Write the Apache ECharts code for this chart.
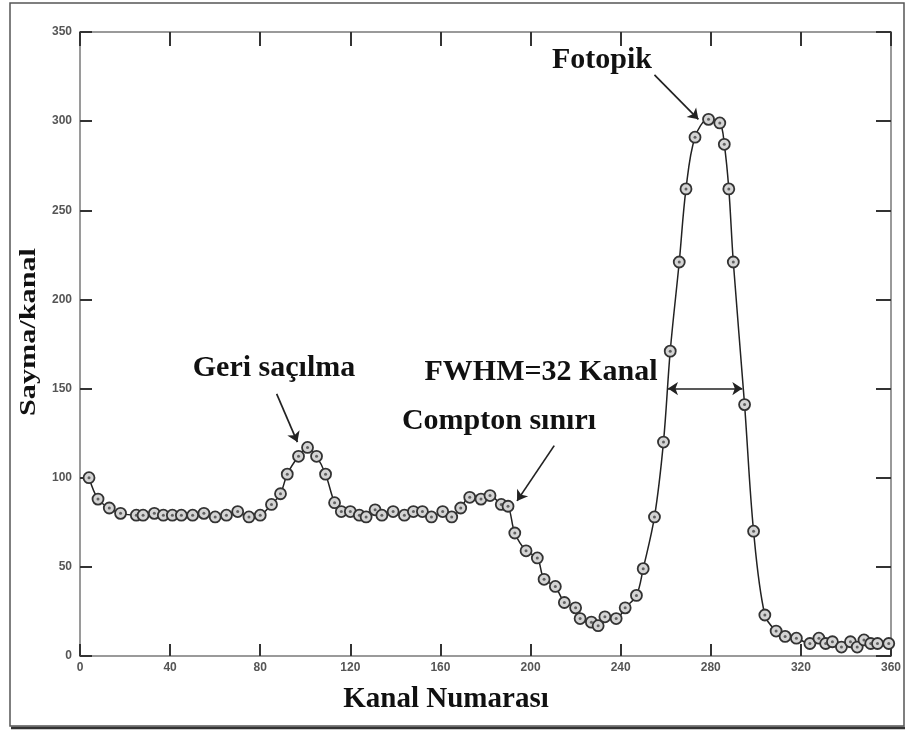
<!DOCTYPE html>
<html>
<head>
<meta charset="utf-8">
<script src="https://cdn.jsdelivr.net/npm/echarts@6/dist/echarts.min.js"></script>
<style>
html,body{margin:0;padding:0;background:#fff;}
#c{width:909px;height:734px;}
</style>
</head>
<body>
<div id="c"></div>
<script>
// Channel numbers and counts
const channels = [4,8,13,18,25,28,33,37,41,45,50,55,60,65,70,75,80,85,89,92,97,101,105,109,113,116,120,124,127,131,134,139,144,148,152,156,161,165,169,173,178,182,187,190,193,198,203,206,211,215,220,222,227,230,233,238,242,247,250,255,259,262,266,269,273,279,284,286,288,290,295,299,304,309,313,318,324,328,331,334,338,342,345,348,351,354,359];
const counts = [100,88,83,80,79,79,80,79,79,79,79,80,78,79,81,78,79,85,91,102,112,117,112,102,86,81,81,79,78,82,79,81,79,81,81,78,81,78,83,89,88,90,85,84,69,59,55,43,39,30,27,21,19,17,22,21,27,34,49,78,120,171,221,262,291,301,299,287,262,221,141,70,23,14,11,10,7,10,7,8,5,8,5,9,7,7,7];
const xTicks = [0,40,80,120,160,200,240,280,320,360];
const yTicks = [0,50,100,150,200,250,300,350];

const pts = channels.map((c,i)=>[c,counts[i]]);

const serif = '"Liberation Serif","DejaVu Serif",serif';
const chart = echarts.init(document.getElementById('c'));

const axisLine = {show:true, onZero:false, lineStyle:{color:'#9a9a9a', width:2}};
const tick = (len)=>({show:true, inside:true, length:len, lineStyle:{color:'#333', width:2}});
const lbl = {color:'#555', fontSize:12, fontWeight:'bold', fontFamily:'"Liberation Sans", Arial, sans-serif'};

chart.setOption({
  animation:false,
  backgroundColor:'#fff',
  grid:{left:80, right:18, top:32, bottom:78},
  xAxis:[{
    type:'value', min:0, max:360, interval:40,
    axisLine:axisLine, axisTick:tick(12), splitLine:{show:false},
    axisLabel:Object.assign({margin:6, formatter:(v)=>xTicks.includes(v)?String(v):''}, lbl)
  },{
    type:'value', min:0, max:360, interval:40, position:'top',
    axisLine:axisLine, axisTick:tick(14), axisLabel:{show:false}, splitLine:{show:false}
  }],
  yAxis:[{
    type:'value', min:0, max:350, interval:50,
    axisLine:axisLine, axisTick:tick(12), splitLine:{show:false},
    axisLabel:Object.assign({margin:8, formatter:(v)=>yTicks.includes(v)?String(v):''}, lbl)
  },{
    type:'value', min:0, max:350, interval:50, position:'right',
    axisLine:axisLine, axisTick:tick(15), axisLabel:{show:false}, splitLine:{show:false}
  }],
  series:[{
    type:'line', data:pts, smooth:0.35,
    lineStyle:{color:'#222', width:1.5},
    symbol:'circle', symbolSize:11,
    itemStyle:{color:'#d4d4d4', borderColor:'#333', borderWidth:1.8},
    z:3,
    markLine:{
      silent:true, symbol:['none','arrow'], symbolSize:10,
      label:{show:false},
      lineStyle:{color:'#222', width:1.7, type:'solid'},
      data:[
        [{coord:[255,326]},{coord:[274.5,301]}],
        [{coord:[87.3,147]},{coord:[96.5,120]}],
        [{coord:[210.5,118]},{coord:[194,87]}],
        [{coord:[261,150], symbol:'arrow'},{coord:[294,150], symbol:'arrow'}]
      ]
    }
  },{
    type:'scatter', data:pts, symbol:'circle', symbolSize:3,
    itemStyle:{color:'#444'}, z:4, silent:true
  }],
  graphic:[
    {type:'rect', shape:{x:10,y:3,width:894,height:723}, style:{fill:null, stroke:'#555', lineWidth:1.5}, silent:true},
    {type:'line', shape:{x1:11,y1:728,x2:905,y2:728}, style:{stroke:'#333', lineWidth:2.5}, silent:true},
    {type:'text', x:602, y:60, style:{text:'Fotopik', font:'bold 30px '+serif, fill:'#111', textAlign:'center', textVerticalAlign:'middle'}},
    {type:'text', x:274, y:368, style:{text:'Geri saçılma', font:'bold 30px '+serif, fill:'#111', textAlign:'center', textVerticalAlign:'middle'}},
    {type:'text', x:541, y:372, style:{text:'FWHM=32 Kanal', font:'bold 30px '+serif, fill:'#111', textAlign:'center', textVerticalAlign:'middle'}},
    {type:'text', x:499, y:421, style:{text:'Compton sınırı', font:'bold 30px '+serif, fill:'#111', textAlign:'center', textVerticalAlign:'middle'}},
    {type:'text', x:446, y:700, style:{text:'Kanal Numarası', font:'bold 29px '+serif, fill:'#111', textAlign:'center', textVerticalAlign:'middle'}},
    {type:'text', x:29, y:332, rotation:Math.PI/2, scaleX:1.26, style:{text:'Sayma/kanal', font:'bold 24px '+serif, fill:'#111', textAlign:'center', textVerticalAlign:'middle'}}
  ]
});
</script>
</body>
</html>
